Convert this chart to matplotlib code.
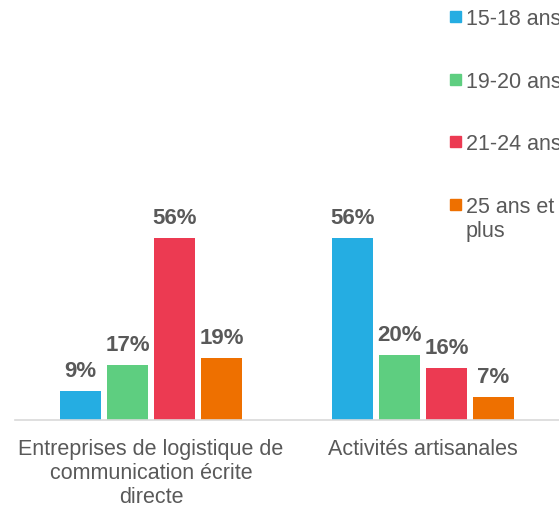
import numpy as np
import matplotlib
matplotlib.use("Agg")
import matplotlib.pyplot as plt
from matplotlib.patches import Rectangle

plt.rcParams["font.family"] = ["Liberation Sans", "DejaVu Sans"]

categories = ["Entreprises de logistique de\ncommunication écrite\ndirecte",
              "Activités artisanales"]
series = ["15-18 ans", "19-20 ans", "21-24 ans", "25 ans et\nplus"]
values = {
    "15-18 ans": [9, 56],
    "19-20 ans": [17, 20],
    "21-24 ans": [56, 16],
    "25 ans et\nplus": [19, 7],
}
colors = ["#25ADE2", "#5ECE80", "#EC3A52", "#EE7000"]

text_color = "#595959"
W, H = 559, 506

fig = plt.figure(figsize=(W / 100, H / 100), dpi=100)
# axes placed in pixel terms: baseline at y=421, x from 15 to 559
y_max = 60
px_per_unit = 3.257
ax_h = y_max * px_per_unit
ax = fig.add_axes([15 / W, (H - 421) / H, (559 - 15) / W, ax_h / H])

x = np.arange(len(categories))
pitch = 0.173
bar_w = 0.151
for i, (name, color) in enumerate(zip(series, colors)):
    pos = x + (i - 1.5) * pitch
    bars = ax.bar(pos, values[name], width=bar_w, color=color, zorder=2)
    for b, v in zip(bars, values[name]):
        ax.annotate(f"{v}%", (b.get_x() + b.get_width() / 2, v),
                    xytext=(0, 7), textcoords="offset points",
                    ha="center", va="bottom", fontsize=16,
                    fontweight="bold", color=text_color)

ax.set_xlim(-0.5, 1.5)
ax.set_ylim(0, y_max)
ax.set_xticks(x)
ax.set_xticklabels(categories, fontsize=15.5, color=text_color)
ax.tick_params(axis="x", length=0, pad=13)
ax.set_yticks([])
for side in ["top", "left", "right"]:
    ax.spines[side].set_visible(False)
ax.spines["bottom"].set_color("#D9D9D9")
ax.spines["bottom"].set_linewidth(1.2)

# legend drawn by hand in pixel coordinates, stacked down the right side
leg_top = 17.5
leg_step = 62.7
for i, (name, color) in enumerate(zip(series, colors)):
    cy = leg_top + i * leg_step
    fig.add_artist(Rectangle((450 / W, 1 - (cy + 5.5) / H), 11 / W, 11 / H,
                             transform=fig.transFigure, color=color))
    fig.text(466 / W, 1 - (cy - 8.5) / H, name, fontsize=15.5,
             color=text_color, ha="left", va="top")

fig.savefig("out.png", dpi=100)
